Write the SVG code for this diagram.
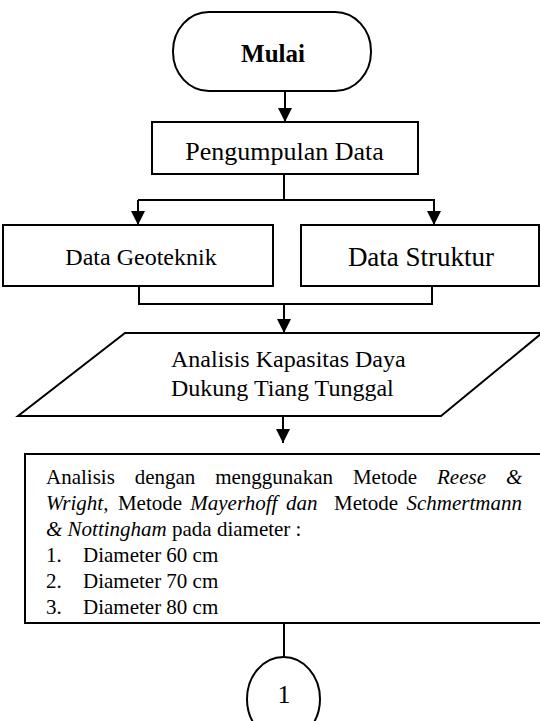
<svg xmlns="http://www.w3.org/2000/svg" width="540" height="721" viewBox="0 0 540 721">
<style>
.shape{fill:#fff;stroke:#000;stroke-width:2}
.conn{fill:none;stroke:#000;stroke-width:2}
text{font-family:"Liberation Serif","Times New Roman",serif;fill:#000}
.t{font-size:21px}
.i{font-style:italic}
</style>
<defs>
<marker id="ah" markerUnits="userSpaceOnUse" markerWidth="14" markerHeight="15" refX="14" refY="7" orient="auto">
<path d="M0,0 L14,7 L0,14 z" fill="#000"/>
</marker>
</defs>
<rect width="540" height="721" fill="#fff"/>
<g id="connectors">
<line class="conn" x1="285" y1="91" x2="285" y2="122" marker-end="url(#ah)"/>
<polyline class="conn" points="284,174 284,200"/>
<polyline class="conn" points="138,200 435,200"/>
<line class="conn" x1="138" y1="200" x2="138" y2="225" marker-end="url(#ah)"/>
<line class="conn" x1="434" y1="200" x2="434" y2="225" marker-end="url(#ah)"/>
<polyline class="conn" points="139,286 139,304 432,304 432,286"/>
<line class="conn" x1="284" y1="304" x2="284" y2="333" marker-end="url(#ah)"/>
<line class="conn" x1="283" y1="416" x2="283" y2="443" marker-end="url(#ah)"/>
<line class="conn" x1="284" y1="623" x2="284" y2="657"/>
</g>
<g id="mulai">
<rect class="shape" x="173" y="12" width="198" height="79" rx="36" ry="39"/>
<text x="273" y="62" font-size="25" font-weight="bold" text-anchor="middle">Mulai</text>
</g>
<g id="pengumpulan">
<rect class="shape" x="152" y="122" width="266" height="52"/>
<text x="284.5" y="160" font-size="26" text-anchor="middle">Pengumpulan Data</text>
</g>
<g id="geoteknik">
<rect class="shape" x="3" y="225" width="270" height="61"/>
<text x="141" y="265" font-size="24" text-anchor="middle">Data Geoteknik</text>
</g>
<g id="struktur">
<rect class="shape" x="301" y="225" width="238" height="61"/>
<text x="421" y="266" font-size="27" text-anchor="middle">Data Struktur</text>
</g>
<g id="analisis-kapasitas">
<polygon class="shape" points="125,333 542,333 441,416 18,416"/>
<text x="171" y="367" font-size="24">Analisis Kapasitas Daya</text>
<text x="171" y="396" font-size="24">Dukung Tiang Tunggal</text>
</g>
<g id="analisis-metode">
<rect class="shape" x="25" y="454" width="520" height="169"/>
<text class="t" y="484"><tspan x="46">Analisis</tspan><tspan x="134.7">dengan</tspan><tspan x="215.2">menggunakan</tspan><tspan x="352.9">Metode</tspan><tspan x="437" class="i">Reese</tspan><tspan x="506" class="i">&amp;</tspan></text>
<text class="t" y="510"><tspan x="46" class="i">Wright,</tspan><tspan x="117.9">Metode</tspan><tspan x="190.3" class="i">Mayerhoff</tspan><tspan x="286" class="i">dan</tspan><tspan x="334">Metode</tspan><tspan x="406.5" class="i">Schmertmann</tspan></text>
<text class="t" x="46" y="536"><tspan class="i">&amp; Nottingham</tspan> pada diameter :</text>
<text class="t" y="562"><tspan x="46">1.</tspan><tspan x="83">Diameter 60 cm</tspan></text>
<text class="t" y="588"><tspan x="46">2.</tspan><tspan x="83">Diameter 70 cm</tspan></text>
<text class="t" y="614"><tspan x="46">3.</tspan><tspan x="83">Diameter 80 cm</tspan></text>
</g>
<g id="konektor-1">
<ellipse class="shape" cx="283.5" cy="699" rx="36.5" ry="42"/>
<text x="284" y="703" font-size="26" text-anchor="middle">1</text>
</g>
</svg>
